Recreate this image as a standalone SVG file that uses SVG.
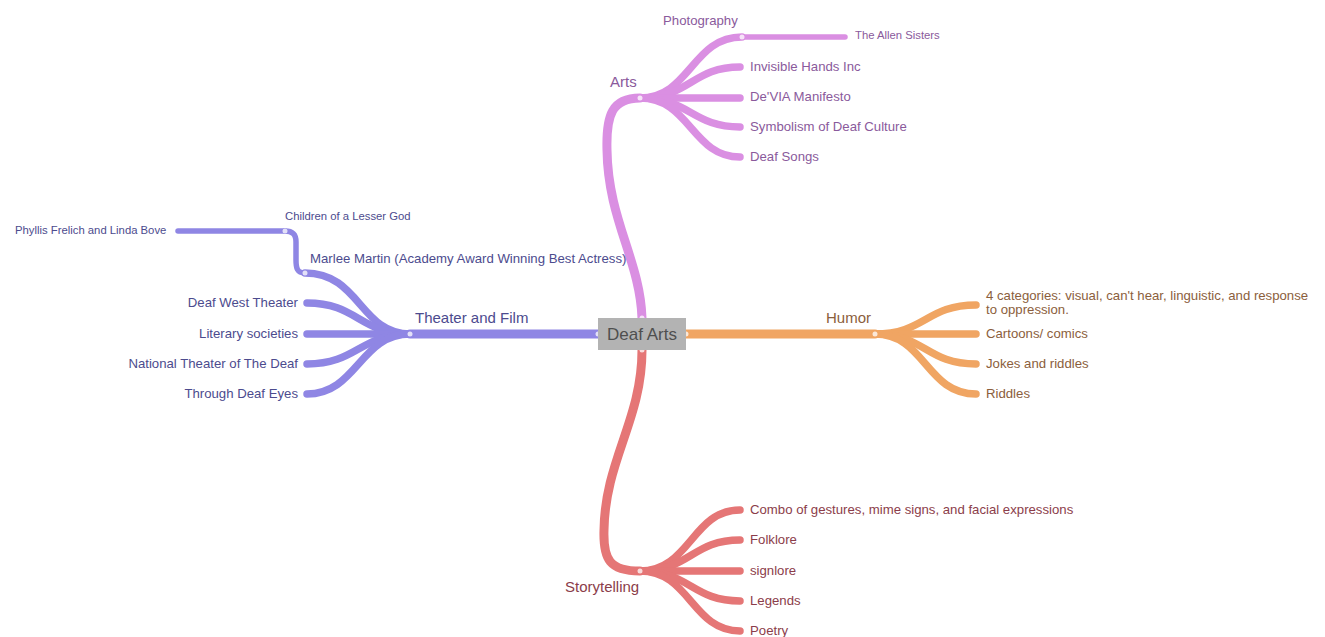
<svg xmlns="http://www.w3.org/2000/svg" width="1325" height="637" viewBox="0 0 1325 637">
<style>
text{font-family:"Liberation Sans",Arial,sans-serif;}
.c{fill:none;stroke-linecap:round;}
.arts{stroke:#da8fe2;}
.th{stroke:#8f86e4;}
.hu{stroke:#f0a563;}
.st{stroke:#e57676;}
.m{stroke-width:9;}
.k{stroke-width:7.5;}
.s{stroke-width:5.5;}
.ta{fill:#8a5a9c;font-size:13.2px;}
.tt{fill:#4c4b8e;font-size:13.2px;}
.thu{fill:#8b5e3c;font-size:13.2px;}
.tst{fill:#8b3d4a;font-size:13.2px;}
.big{font-size:15px;}
.sm{font-size:11.3px;}
.knot{fill:#fff;opacity:0.75;}
</style>
<rect width="1325" height="637" fill="#fff"/>
<g id="connectors">
<path class="c arts m" d="M642,318 C640,260 608,220 607,150 C606,115 612,98 640,98"/>
<path class="c arts k" d="M640,98 C690,98 692,37 742,37"/>
<path class="c arts s" d="M742,37 L845,37"/>
<path class="c arts k" d="M640,98 C690,98 692,67 740,67"/>
<path class="c arts k" d="M640,98 L740,98"/>
<path class="c arts k" d="M640,98 C690,98 692,127 740,127"/>
<path class="c arts k" d="M640,98 C690,98 692,157 740,157"/>
<path class="c th m" d="M598,334 L410,334"/>
<path class="c th k" d="M410,334 C360,334 360,273 305,273"/>
<path class="c th k" d="M410,334 C360,334 357,303 307,303"/>
<path class="c th k" d="M410,334 L307,334"/>
<path class="c th k" d="M410,334 C360,334 357,364 307,364"/>
<path class="c th k" d="M410,334 C360,334 357,394 307,394"/>
<path class="c th s" d="M305,273 C297,273 296,268 296,260 L296,242 C296,234 292,231 285,231"/>
<path class="c th s" d="M285,231 L178,231"/>
<path class="c hu m" d="M686,334 L875,334"/>
<path class="c hu k" d="M875,334 C925,334 926,305 976,305"/>
<path class="c hu k" d="M875,334 L976,334"/>
<path class="c hu k" d="M875,334 C925,334 926,364 976,364"/>
<path class="c hu k" d="M875,334 C925,334 926,394 976,394"/>
<path class="c st m" d="M642,350 C642,420 605,460 604,530 C603,560 610,571 640,571"/>
<path class="c st k" d="M640,571 C690,571 692,510 740,510"/>
<path class="c st k" d="M640,571 C690,571 692,540 740,540"/>
<path class="c st k" d="M640,571 L740,571"/>
<path class="c st k" d="M640,571 C690,571 692,601 740,601"/>
<path class="c st k" d="M640,571 C690,571 692,631 740,631"/>
<circle class="knot" cx="642" cy="318" r="2.5"/>
<circle class="knot" cx="642" cy="350" r="2.5"/>
<circle class="knot" cx="598" cy="334" r="2.5"/>
<circle class="knot" cx="686" cy="334" r="2.5"/>
<circle class="knot" cx="640" cy="98" r="2.5"/>
<circle class="knot" cx="742" cy="37" r="2.5"/>
<circle class="knot" cx="410" cy="334" r="2.5"/>
<circle class="knot" cx="305" cy="273" r="2.5"/>
<circle class="knot" cx="285" cy="231" r="2.5"/>
<circle class="knot" cx="875" cy="334" r="2.5"/>
<circle class="knot" cx="640" cy="571" r="2.5"/>
</g>
<g id="center">
<rect x="598" y="318" width="88" height="32" fill="#b3b3b3"/>
<text x="642" y="340" text-anchor="middle" font-size="17" fill="#4f4f4f">Deaf Arts</text>
</g>
<g id="arts">
<text class="ta big" x="610" y="87">Arts</text>
<text class="ta" x="663" y="25">Photography</text>
<text class="ta sm" x="855" y="39">The Allen Sisters</text>
<text class="ta" x="750" y="71">Invisible Hands Inc</text>
<text class="ta" x="750" y="101">De'VIA Manifesto</text>
<text class="ta" x="750" y="131">Symbolism of Deaf Culture</text>
<text class="ta" x="750" y="161">Deaf Songs</text>
</g>
<g id="theater">
<text class="tt big" x="415" y="323">Theater and Film</text>
<text class="tt" x="310" y="263" font-size="14.3">Marlee Martin (Academy Award Winning Best Actress)</text>
<text class="tt sm" x="285" y="220">Children of a Lesser God</text>
<text class="tt sm" x="15" y="234">Phyllis Frelich and Linda Bove</text>
<text class="tt" x="298" y="307" text-anchor="end">Deaf West Theater</text>
<text class="tt" x="298" y="338" text-anchor="end">Literary societies</text>
<text class="tt" x="298" y="368" text-anchor="end">National Theater of The Deaf</text>
<text class="tt" x="298" y="398" text-anchor="end">Through Deaf Eyes</text>
</g>
<g id="humor">
<text class="thu big" x="826" y="323">Humor</text>
<text class="thu" x="986" y="300">4 categories: visual, can't hear, linguistic, and response</text>
<text class="thu" x="986" y="314">to oppression.</text>
<text class="thu" x="986" y="338">Cartoons/ comics</text>
<text class="thu" x="986" y="368">Jokes and riddles</text>
<text class="thu" x="986" y="398">Riddles</text>
</g>
<g id="storytelling">
<text class="tst big" x="565" y="592">Storytelling</text>
<text class="tst" x="750" y="514">Combo of gestures, mime signs, and facial expressions</text>
<text class="tst" x="750" y="544">Folklore</text>
<text class="tst" x="750" y="575">signlore</text>
<text class="tst" x="750" y="605">Legends</text>
<text class="tst" x="750" y="635">Poetry</text>
</g>
</svg>
